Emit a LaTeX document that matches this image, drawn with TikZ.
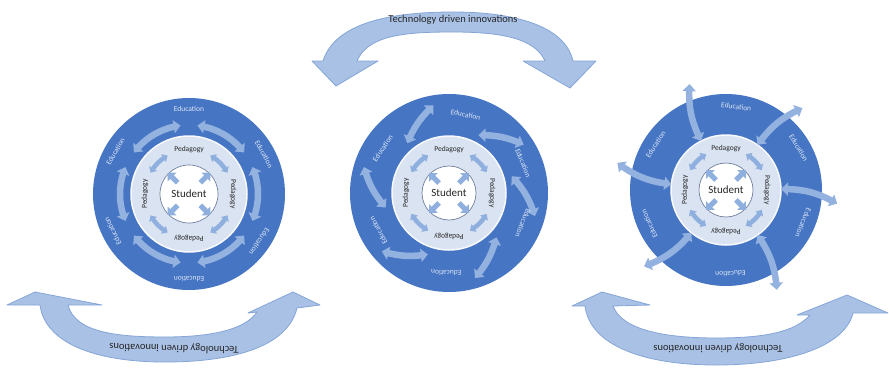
\documentclass[tikz,border=0pt]{standalone}
\usepackage{fontspec}
\setmainfont{Carlito}
\usetikzlibrary{arrows.meta,bending}

\definecolor{diskblue}{HTML}{4675C3}
\definecolor{ringpale}{HTML}{DAE3F1}
\definecolor{flowblue}{HTML}{94B2DF}
\definecolor{spokeblue}{HTML}{8FB0DE}
\definecolor{bandfill}{HTML}{A8C1E5}
\definecolor{bandedge}{HTML}{85A5D8}
\definecolor{labelpale}{HTML}{DCE6F6}
\definecolor{inktext}{HTML}{262626}
\definecolor{corerim}{HTML}{6F7F9E}

\tikzset{
  disk/.style={fill=diskblue},
  palering/.style={fill=ringpale, draw=white!80!ringpale, line width=1.5pt},
  corecircle/.style={fill=white, draw=corerim, line width=0.7pt},
  flow/.style={draw=flowblue, line width=6.5pt,
    {Triangle[width=13pt,length=7pt]}-{Triangle[width=13pt,length=7pt]}},
  spoke/.style={draw=spokeblue, line width=4.5pt,
    {Triangle[width=9pt,length=5pt]}-{Triangle[width=9pt,length=5pt]}},
  outpoint/.style={draw=spokeblue, line width=5pt, -{Triangle[width=12pt,length=6pt]}},
  band/.style={fill=bandfill, draw=bandedge, line width=0.8pt, line join=round},
  bandtext/.style={font=\fontsize{10.5}{12}\selectfont, text=inktext, inner sep=0pt},
  edulabel/.style={font=\fontsize{7.5}{8}\selectfont, text=labelpale, inner sep=0pt},
  pedlabel/.style={font=\fontsize{7.5}{8}\selectfont, text=inktext, inner sep=0pt},
  studlabel/.style={font=\fontsize{11}{12}\selectfont, text=inktext, inner sep=1pt},
}

% inner part of each ring diagram: pale ring, core, arrows, labels
\newcommand\DrawHub[4]{%
  \draw[palering] (0,0) circle[radius=#1];
  \foreach \q in {45,135,225,315}
    \draw[spoke] ({\q+16}:#3) arc[start angle=\q+16, end angle=\q-16, radius=#3];
  \draw[corecircle] (0,0) circle[radius=#2];
  \foreach \q in {45,135,225,315}
    \draw[outpoint] (\q:{#2-13}) -- (\q:{#2+1});
  \foreach \q in {90,0,-90,180}
    \node[pedlabel, rotate=\q-90] (#4-ped\q) at (\q:#3) {Pedagogy};
  \node[studlabel] (#4) at (0,0) {Student};
}

% labels in the outer blue ring, upright toward the rim
\newcommand\EduLabels[3]{%
  \foreach \q in {#2}
    \node[edulabel, rotate=\q-90] (#3-edu\q) at (\q:#1) {Education};
}

\begin{document}
\begin{tikzpicture}[x=1pt, y=1pt]
\useasboundingbox (0,0) rectangle (889,368);
\fill[white] (0,0) rectangle (889,368);

% top curved arrow
\path[band] (312,307) -- (323,307)
  .. controls (335,345) and (390,356) .. (453,356)
  .. controls (515,356) and (565,342) .. (573,307)
  -- (596,307) -- (570,280) -- (523,307) -- (545,307)
  .. controls (535,330) and (500,336) .. (453,336)
  .. controls (405,336) and (368,333) .. (357,307)
  -- (378,307) -- (336,282) -- cycle;
\node[bandtext] (topcap) at (453,348) {Technology driven innovations};

% bottom left curved arrow
\path[band] (7,63) -- (40,63)
  .. controls (45,25) and (95,6) .. (165,6)
  .. controls (235,6) and (288,22) .. (297,60)
  -- (320,63) -- (293,76) -- (248,55) -- (257,56)
  .. controls (245,38) and (210,31) .. (165,31)
  .. controls (115,31) and (75,36) .. (68,63)
  -- (102,63) -- (35,76) -- cycle;
\node[bandtext, rotate=178.6] (leftcap) at (174,20) {Technology driven innovations};

% bottom right curved arrow
\path[band] (572,62) -- (585,62)
  .. controls (590,22) and (645,3) .. (716,3)
  .. controls (790,3) and (845,22) .. (853,55)
  -- (888,55) -- (847,73) -- (797,53) -- (810,53)
  .. controls (795,36) and (765,30) .. (716,30)
  .. controls (665,30) and (622,38) .. (613,62)
  -- (650,63) -- (602,76) -- cycle;
\node[bandtext, rotate=180] (rightcap) at (718,20) {Technology driven innovations};

% first diagram: circular flows
\begin{scope}[shift={(189,174)}]
  \fill[disk] (0,0) circle[radius=96];
  \foreach \q in {120,60,0,-60,-120,180}
    \draw[flow] ({\q+23}:69) arc[start angle=\q+23, end angle=\q-23, radius=69];
  \EduLabels{85}{90,28,-34,-90,206,150}{a}
  \DrawHub{58}{29}{44}{s1}
\end{scope}

% second diagram: swirling flows
\begin{scope}[shift={(449,175)}]
  \fill[disk] (0,0) circle[radius=99];
  \foreach \q in {115,48,0,-58,-124,178}
    \draw[flow] ({\q+15}:65) to[bend left=12] ({\q-15}:89);
  \EduLabels{80}{78,22,-22,-92,208,146}{b}
  \DrawHub{57}{27}{43}{s2}
\end{scope}

% third diagram: flows reaching outside
\begin{scope}[shift={(726,178)}]
  \fill[disk] (0,0) circle[radius=96];
  \EduLabels{84}{83,30,-23,-87,204,147}{c}
  \DrawHub{55}{27}{41}{s3}
  \foreach \q in {113,51,-3,-59,-133,170}
    \draw[flow] ({\q+4}:55) to[bend left=15] ({\q-4}:112);
\end{scope}
\end{tikzpicture}
\end{document}
